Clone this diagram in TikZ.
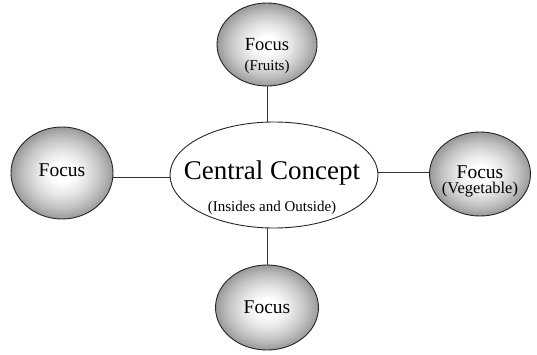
\documentclass[tikz,border=0pt]{standalone}
\usepackage{fontspec}
\setmainfont{Liberation Serif}
\usetikzlibrary{shapes.geometric}
\pgfdeclareradialshading{focusshade}{\pgfpoint{0bp}{0bp}}{%
  color(0bp)=(white); color(5bp)=(white); color(12bp)=(black!10); color(19bp)=(black!24); color(25bp)=(black!40); color(50bp)=(black!40)}
\begin{document}
\begin{tikzpicture}[x=1pt,y=1pt,
  focus/.style={ellipse,draw=black!85,line width=0.9pt,shading=focusshade,inner sep=0pt},
  central/.style={ellipse,draw=black!85,line width=0.9pt,fill=white,inner sep=0pt},
  link/.style={draw=black!80,line width=0.9pt},
  big/.style={font=\fontsize{19.5}{22}\selectfont,inner sep=0pt},
  small/.style={font=\fontsize{15}{17}\selectfont,inner sep=0pt},
  huge/.style={font=\fontsize{27}{30}\selectfont,inner sep=0pt}]
\useasboundingbox (0,0) rectangle (537,354);
% ellipses
\node[central,minimum width=208,minimum height=106] (c) at (274,179) {};
\node[focus,minimum width=100,minimum height=83] (t) at (267,309.5) {};
\node[focus,minimum width=102,minimum height=92] (l) at (62,181) {};
\node[focus,minimum width=101,minimum height=84] (r) at (480,180) {};
\node[focus,minimum width=103,minimum height=85] (b) at (267,46.5) {};
% connectors
\coordinate (lp) at (113,177);
\coordinate (rp) at (430,182);
\path[link] (t) -- (c.north-|t);
\path[link] (b) -- (c.south-|b);
\path[link] (l.east|-lp) -- (c.west|-lp);
\path[link] (c.east|-rp) -- (r.west|-rp);
% texts
\node[big,font=\fontsize{18.5}{21}\selectfont] (tt) at (267,309) {Focus};
\node[small] (ts) at (267,287) {(Fruits)};
\node[huge] (ct1) at (272,181) {Central Concept};
\node[small] (ct2) at (272,146) {(Insides and Outside)};
\node[big] (lt) at (62,184) {Focus};
\node[big] (rt) at (480,182) {Focus};
\node[small,font=\fontsize{16.5}{18}\selectfont] (rs) at (480,164) {(Vegetable)};
\node[big] (bt) at (267,47) {Focus};
\end{tikzpicture}
\end{document}
